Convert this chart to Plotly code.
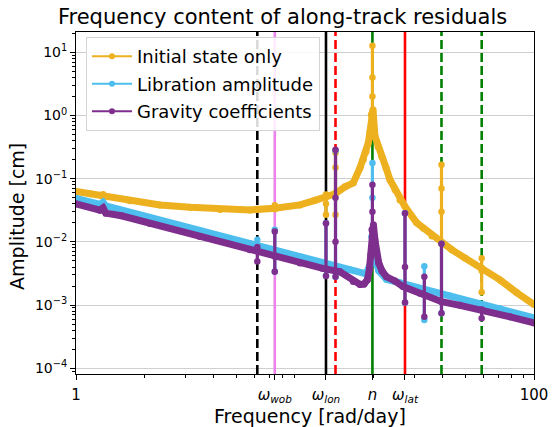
import plotly.graph_objects as go

# ---------------- characteristic frequencies [rad/day] ----------------
vline_freq = [6.19, 7.38, 12.35, 13.59, 19.70, 27.33, 39.45, 59.1]
vline_color = ["black", "violet", "black", "red", "green", "red", "green", "green"]
vline_dash = ["9px,4px", "solid", "solid", "9px,4px", "solid", "solid", "9px,4px", "9px,4px"]

tick_freq = [1, 7.38, 12.35, 19.70, 27.33, 100]
tick_text = ["1",
             "<i>ω</i><sub><i>wob</i></sub>",
             "<i>ω</i><sub><i>lon</i></sub>",
             "<i>n</i>",
             "<i>ω</i><sub><i>lat</i></sub>",
             "100"]

# ---------------- spectra: broadband part [cm] ----------------
init_f = [1.0, 1.151, 1.312, 1.721, 2.327, 3.147, 4.254, 5.752, 7.396, 9.511,
          11.06, 12.35, 13.52, 14.95, 16.25, 17.39, 17.97, 18.47, 18.90, 19.22,
          19.47, 19.81, 20.21, 20.84, 21.62, 22.58, 23.50, 24.72,
          25.98, 27.33, 30.74, 32.9, 35.86, 39.54, 43.85, 49.95, 59.1, 71.03,
          84.3, 100.0]
init_amp = [0.0627, 0.0577, 0.0526, 0.0447, 0.0385, 0.0352, 0.0327, 0.0321, 0.0340, 0.0385,
            0.0455, 0.0516, 0.0577, 0.0745, 0.0861, 0.149, 0.200, 0.267, 0.371, 0.553,
            1.03, 1.24, 0.47, 0.321, 0.225, 0.149, 0.096, 0.0667,
            0.046, 0.0363, 0.020, 0.0165, 0.0124, 0.0095, 0.00747, 0.00557, 0.00387, 0.0025,
            0.00156, 0.00102]

lib_f = [1.0, 1.273, 1.312, 1.35, 2.105, 3.48, 5.75, 9.51, 12.35, 15.7,
         18.5, 19.3, 19.55, 19.85, 20.1, 21.0, 22.7, 25.98, 43.0,
         71.0, 100.0]
lib_amp = [0.049, 0.0392, 0.0423, 0.0371, 0.0244, 0.0151, 0.0094, 0.00582, 0.00456, 0.00362,
           0.00311, 0.0045, 0.012, 0.012, 0.006, 0.0035, 0.00255, 0.00225, 0.00139,
           0.00087, 0.000625]

grav_f = [1.0, 1.273, 1.312, 1.35, 1.58, 2.105, 3.48, 5.75, 7.40, 9.51,
          11.96, 14.22, 16.25, 17.39, 18.1, 18.7, 19.1, 19.4, 19.6,
          19.9, 20.2, 21.0, 21.7, 22.7, 24.7, 26.8, 31.8, 39.5, 47.5,
          59.1, 78.6, 100.0]
grav_amp = [0.040, 0.0318, 0.0344, 0.0285, 0.0259, 0.0196, 0.0122, 0.00747, 0.00585, 0.00465,
            0.0038, 0.00335, 0.00235, 0.00212, 0.00215, 0.0025, 0.0036, 0.0062, 0.0155,
            0.0186, 0.0107, 0.0046, 0.00347, 0.0028, 0.00241, 0.00196, 0.00154, 0.00113, 0.00099,
            0.00084, 0.00065, 0.00052]

# ---------------- narrow spectral lines: frequency and sampled levels [cm] ----------------
init_spk_f = [1.312, 7.38, 12.35, 13.59, 19.70, 39.45, 59.1]
init_spk_amp = [[0.0526, 0.057], [0.033, 0.038], [0.0268, 0.040, 0.056],
                [0.0268, 0.06, 0.15, 0.257], [1.0, 2.0, 4.0, 12.8],
                [0.0095, 0.03, 0.07, 0.166], [0.0016, 0.0035, 0.0055]]

lib_spk_f = [6.19, 7.38, 12.35, 13.59, 19.70, 27.33, 33.2, 39.45]
lib_spk_amp = [[0.0089, 0.0108], [0.0034, 0.0155], [0.0029, 0.0198], [0.0028, 0.28],
               [0.012, 0.05, 0.177], [0.0011, 0.0285], [0.00058, 0.0041], [0.00074, 0.0093]]

grav_spk_f = [6.19, 7.38, 12.35, 13.59, 19.70, 27.33, 33.2, 39.45, 59.1]
grav_spk_amp = [[0.0049, 0.0083], [0.00338, 0.0146], [0.00289, 0.0198],
                [0.0028, 0.01, 0.05, 0.287], [0.0155, 0.03, 0.08],
                [0.0011, 0.004, 0.0285], [0.00065, 0.0028], [0.00074, 0.0093],
                [0.00062, 0.00084]]

series_names = ["Initial state only", "Libration amplitude", "Gravity coefficients"]
series_colors = ["#EDB120", "#4DBEEE", "#7E2F8E"]

Y_LOG_RANGE = [-4.092, 1.323]
FONT = "DejaVu Sans"

fig = go.Figure()

# reference frequencies as full-height vertical lines, beneath the spectra
ylo, yhi = 10 ** Y_LOG_RANGE[0], 10 ** Y_LOG_RANGE[1]
for f, c, d in zip(vline_freq, vline_color, vline_dash):
    fig.add_trace(go.Scatter(x=[f, f], y=[ylo, yhi], mode="lines",
                             line=dict(color=c, width=2.6, dash=d),
                             showlegend=False, hoverinfo="skip"))


def spike_xy(freqs, levels):
    xs, ys = [], []
    for f, lv in zip(freqs, levels):
        xs += [f] * len(lv) + [None]
        ys += list(lv) + [None]
    return xs, ys


spectra = [
    (init_f, init_amp, init_spk_f, init_spk_amp),
    (lib_f, lib_amp, lib_spk_f, lib_spk_amp),
    (grav_f, grav_amp, grav_spk_f, grav_spk_amp),
]

for (bf, ba, sf, sa), name, color in zip(spectra, series_names, series_colors):
    fig.add_trace(go.Scatter(x=bf, y=ba, mode="lines+markers", name=name,
                             line=dict(color=color, width=7),
                             marker=dict(color=color, size=7),
                             showlegend=False))
    sx, sy = spike_xy(sf, sa)
    fig.add_trace(go.Scatter(x=sx, y=sy, mode="lines+markers", name=name,
                             line=dict(color=color, width=3.2),
                             marker=dict(color=color, size=6.5),
                             connectgaps=False, showlegend=False))

# legend entries
for i, (name, color) in enumerate(zip(series_names, series_colors)):
    fig.add_trace(go.Scatter(x=[None], y=[None], mode="lines+markers", name=name,
                             line=dict(color=color, width=2),
                             marker=dict(color=color, size=6),
                             legendgroup=f"g{i}", showlegend=True))

x_minor = [v * 10 ** k for k in (0, 1) for v in range(2, 10)]
y_minor = [v * 10.0 ** k for k in range(-5, 2) for v in range(2, 10)]
y_major = [10.0 ** k for k in range(-4, 2)]
y_major_text = ["10<sup>−4</sup>", "10<sup>−3</sup>", "10<sup>−2</sup>",
                "10<sup>−1</sup>", "10<sup>0</sup>", "10<sup>1</sup>"]

fig.update_xaxes(type="log", range=[0, 2], automargin=False,
                 tickmode="array", tickvals=tick_freq, ticktext=tick_text,
                 ticks="outside", ticklen=5, tickwidth=1, tickcolor="black",
                 ticklabelstandoff=2,
                 showline=True, linecolor="black", linewidth=1, mirror=True,
                 showgrid=True, gridcolor="#cfcfcf", gridwidth=1.3, zeroline=False,
                 tickfont=dict(family=FONT, size=15, color="black"),
                 minor=dict(tickmode="array", tickvals=x_minor, ticks="outside",
                            ticklen=3, tickwidth=1, tickcolor="black", showgrid=False))
fig.update_yaxes(type="log", range=Y_LOG_RANGE, automargin=False,
                 tickmode="array", tickvals=y_major, ticktext=y_major_text,
                 ticks="outside", ticklen=5, tickwidth=1, tickcolor="black",
                 showline=True, linecolor="black", linewidth=1, mirror=True,
                 showgrid=True, gridcolor="#cfcfcf", gridwidth=1.3, zeroline=False,
                 tickfont=dict(family=FONT, size=14, color="black"),
                 minor=dict(tickmode="array", tickvals=y_minor, ticks="outside",
                            ticklen=3, tickwidth=1, tickcolor="black", showgrid=False))

fig.update_layout(
    width=553, height=427,
    margin=dict(l=76, r=19, t=32, b=53),
    paper_bgcolor="white", plot_bgcolor="white",
    font=dict(family=FONT, color="black"),
    title=dict(text="Frequency content of along-track residuals",
               font=dict(family=FONT, size=21, color="black"),
               x=0.511, xanchor="center", xref="container",
               y=0.962, yanchor="middle", yref="container"),
    legend=dict(x=0.0218, y=0.985, xanchor="left", yanchor="top",
                bgcolor="rgba(255,255,255,0.85)", bordercolor="#d4d4d4", borderwidth=1,
                font=dict(family=FONT, size=18, color="black"),
                tracegroupgap=1, itemwidth=40),
    annotations=[
        dict(text="Amplitude [cm]", textangle=-90, showarrow=False,
             xref="paper", yref="paper", x=-0.129, y=0.462,
             xanchor="center", yanchor="middle",
             font=dict(family=FONT, size=19, color="black")),
        dict(text="Frequency [rad/day]", showarrow=False,
             xref="paper", yref="paper", x=0.51, y=-0.085,
             xanchor="center", yanchor="top",
             font=dict(family=FONT, size=19, color="black")),
    ],
)

fig.write_html("out.html")
